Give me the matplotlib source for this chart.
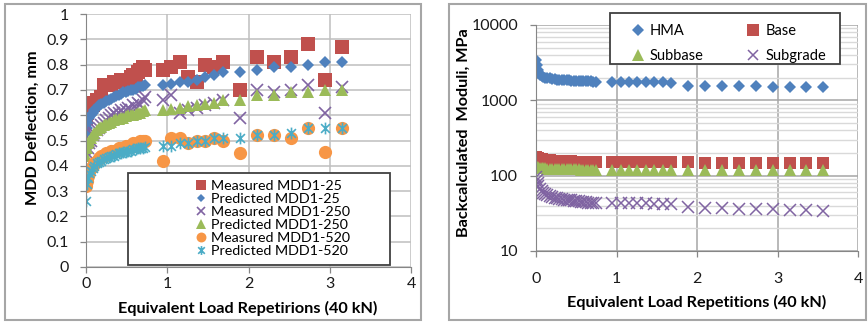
import matplotlib.pyplot as plt
from matplotlib.patches import Rectangle
from matplotlib.path import Path

plt.rcParams['font.family'] = ['Lato', 'DejaVu Sans']

# ---- left panel: MDD deflection (mm) vs load repetitions ----
x_left = [0, 0.01, 0.02, 0.04, 0.06, 0.08, 0.1, 0.13, 0.16, 0.19, 0.22, 0.25, 0.28, 0.31,
          0.34, 0.37, 0.4, 0.43, 0.46, 0.49, 0.52, 0.55, 0.58, 0.61, 0.64, 0.67, 0.7, 0.73,
          0.945, 1.05, 1.155, 1.26, 1.365, 1.47, 1.575, 1.68, 1.89, 2.1, 2.31, 2.52, 2.73, 2.94, 3.15]

meas_25 = [0.59, 0.61, 0.62, 0.63, 0.64, 0.64, 0.65, 0.66, 0.66, 0.67, 0.72, 0.72, 0.72, 0.72,
           0.73, 0.73, 0.73, 0.74, 0.74, 0.74, 0.74, 0.75, 0.76, 0.76, 0.77, 0.78, 0.79, 0.78,
           0.78, 0.79, 0.81, 0.75, 0.73, 0.80, 0.79, 0.81, 0.70, 0.83, 0.81, 0.83, 0.88, 0.74, 0.87]
pred_25 = [0.53, 0.55, 0.57, 0.59, 0.60, 0.61, 0.62, 0.63, 0.64, 0.645, 0.65, 0.655, 0.66, 0.665,
           0.67, 0.675, 0.68, 0.685, 0.69, 0.69, 0.695, 0.70, 0.70, 0.705, 0.71, 0.71, 0.715, 0.72,
           0.72, 0.725, 0.73, 0.73, 0.74, 0.75, 0.76, 0.77, 0.77, 0.78, 0.79, 0.79, 0.80, 0.81, 0.81]
meas_250 = [0.43, 0.45, 0.47, 0.49, 0.50, 0.52, 0.53, 0.54, 0.55, 0.56, 0.57, 0.58, 0.59, 0.60,
            0.61, 0.60, 0.61, 0.62, 0.61, 0.62, 0.63, 0.62, 0.64, 0.63, 0.65, 0.64, 0.66, 0.67,
            0.66, 0.68, 0.61, 0.62, 0.63, 0.64, 0.65, 0.66, 0.59, 0.70, 0.69, 0.70, 0.72, 0.61, 0.71]
pred_250 = [0.44, 0.47, 0.49, 0.50, 0.51, 0.52, 0.53, 0.54, 0.55, 0.555, 0.56, 0.565, 0.57, 0.575,
            0.58, 0.585, 0.585, 0.59, 0.59, 0.595, 0.60, 0.60, 0.60, 0.605, 0.61, 0.61, 0.615, 0.62,
            0.62, 0.625, 0.63, 0.635, 0.64, 0.645, 0.65, 0.66, 0.66, 0.68, 0.68, 0.69, 0.69, 0.70, 0.70]
meas_520 = [0.32, 0.34, 0.36, 0.38, 0.39, 0.40, 0.41, 0.42, 0.43, 0.44, 0.44, 0.45, 0.45, 0.46,
            0.46, 0.46, 0.47, 0.47, 0.47, 0.48, 0.48, 0.48, 0.49, 0.48, 0.49, 0.50, 0.50, 0.50,
            0.42, 0.51, 0.51, 0.49, 0.50, 0.50, 0.51, 0.50, 0.45, 0.52, 0.52, 0.51, 0.55, 0.455, 0.55]
pred_520 = [0.26, 0.33, 0.35, 0.37, 0.38, 0.39, 0.40, 0.41, 0.415, 0.42, 0.425, 0.43, 0.435, 0.44,
            0.44, 0.445, 0.45, 0.45, 0.455, 0.455, 0.46, 0.46, 0.465, 0.465, 0.47, 0.47, 0.47, 0.475,
            0.48, 0.48, 0.49, 0.49, 0.50, 0.50, 0.51, 0.51, 0.51, 0.52, 0.52, 0.53, 0.55, 0.55, 0.55]

# ---- right panel: backcalculated moduli (MPa) ----
x_right = [0, 0.01, 0.02, 0.03, 0.05, 0.07, 0.09, 0.11, 0.14, 0.17, 0.2, 0.23, 0.26, 0.29, 0.32,
           0.35, 0.38, 0.41, 0.44, 0.47, 0.5, 0.53, 0.56, 0.59, 0.62, 0.65, 0.68, 0.71, 0.74,
           0.945, 1.05, 1.155, 1.26, 1.365, 1.47, 1.575, 1.68, 1.89, 2.1, 2.31, 2.52, 2.73, 2.94,
           3.15, 3.36, 3.57]

hma = [3400, 2900, 2500, 2300, 2200, 2100, 2050, 2000, 1980, 1950, 1930, 1900, 1890, 1880, 1870,
       1860, 1850, 1840, 1830, 1820, 1810, 1800, 1800, 1790, 1790, 1780, 1780, 1770, 1760,
       1760, 1750, 1750, 1740, 1740, 1730, 1730, 1720, 1560, 1550, 1550, 1540, 1540, 1520,
       1520, 1500, 1490]
base = [175, 172, 170, 168, 166, 165, 163, 162, 160, 160, 158, 158, 157, 157, 156,
        156, 155, 155, 155, 154, 154, 154, 153, 153, 153, 152, 152, 152, 152,
        152, 152, 151, 151, 151, 150, 150, 150, 150, 149, 149, 149, 148, 148,
        148, 148, 147]
subbase = [135, 132, 130, 128, 127, 126, 125, 125, 124, 124, 123, 123, 123, 122, 122,
           122, 122, 121, 121, 121, 121, 121, 120, 120, 120, 120, 120, 120, 120,
           120, 120, 120, 119, 119, 119, 119, 119, 119, 119, 118, 118, 118, 118,
           118, 118, 118]
subgrade = [95, 88, 80, 72, 66, 62, 59, 57, 55, 53, 52, 51, 50, 49, 49,
            48, 48, 47, 47, 46, 46, 46, 45, 45, 45, 44, 44, 44, 44,
            44, 44, 43, 43, 43, 42, 42, 42, 38, 37, 37, 36, 36, 36,
            35, 35, 34]

RED, BLUE, PURPLE = '#C0504D', '#4F81BD', '#8064A2'
GREEN, ORANGE, CYAN = '#9BBB59', '#F79646', '#4BACC6'

star = Path([(0, -1), (0, 1), (-0.75, -0.75), (0.75, 0.75), (-0.75, 0.75), (0.75, -0.75)],
            [Path.MOVETO, Path.LINETO] * 3)

W, H = 868, 322
def fx(p):
    return p / W
def fy(p):
    return 1 - p / H

fig = plt.figure(figsize=(8.68, 3.22), dpi=100)

# panel frames
for x0, x1 in [(5, 421), (449, 866)]:
    fig.patches.append(Rectangle((fx(x0), fy(320)), fx(x1) - fx(x0), fy(4) - fy(320),
                                 transform=fig.transFigure, fill=False,
                                 edgecolor='#a6a6a6', lw=1.5, zorder=0))

# ---------------- left ----------------
ax1 = fig.add_axes([fx(86), fy(267), fx(411) - fx(86), fy(14) - fy(267)])
h1 = ax1.plot(x_left, meas_25, 's', color=RED, ms=9.5, mew=0, label='Measured MDD1-25')
h2 = ax1.plot(x_left, pred_25, 'D', color=BLUE, ms=5.8, mew=0, label='Predicted MDD1-25')
h3 = ax1.plot(x_left, meas_250, 'x', color=PURPLE, ms=8, mew=1.2, label='Measured MDD1-250')
h4 = ax1.plot(x_left, pred_250, '^', color=GREEN, ms=9, mew=0, label='Predicted MDD1-250')
h5 = ax1.plot(x_left, meas_520, 'o', color=ORANGE, ms=9.5, mew=0, label='Measured MDD1-520')
h6 = ax1.plot(x_left, pred_520, marker=star, ls='none', color=CYAN, ms=8.5, mew=1.2,
              label='Predicted MDD1-520')

ax1.set_xlim(0, 4)
ax1.set_ylim(0, 1)
ax1.set_xticks([0, 1, 2, 3, 4])
ax1.set_yticks([0, 0.1, 0.2, 0.3, 0.4, 0.5, 0.6, 0.7, 0.8, 0.9, 1],
               labels=['0', '0.1', '0.2', '0.3', '0.4', '0.5', '0.6', '0.7', '0.8', '0.9', '1'])
ax1.grid(True, color='#bfbfbf', lw=1.1)
ax1.set_axisbelow(True)
for s in ['top', 'right']:
    ax1.spines[s].set_visible(False)
for s in ['left', 'bottom']:
    ax1.spines[s].set_color('#868686')
ax1.tick_params(length=4.5, width=0.9, color='#868686', labelsize=11.5, labelcolor='#1a1a1a')
ax1.tick_params(axis='y', pad=8)
ax1.tick_params(axis='x', pad=3)

fig.text(fx(33), fy(128), 'MDD Deflection, mm', rotation=90, ha='center', va='center',
         fontsize=11.7, fontweight='bold')
fig.text(fx(248), fy(308), 'Equivalent Load Repetirions (40 kN)', ha='center', va='center',
         fontsize=11.7, fontweight='bold')

fig.patches.append(Rectangle((fx(128), fy(265)), fx(390) - fx(128), fy(173) - fy(265),
                             transform=fig.transFigure, facecolor='white',
                             edgecolor='#404040', lw=1.3, zorder=2))
handles = h1 + h2 + h3 + h4 + h5 + h6
leg1 = fig.legend(handles=handles, loc='upper left', bbox_to_anchor=(fx(187), fy(173)),
                  frameon=False, fontsize=10.3, borderpad=0, handlelength=0.9,
                  handletextpad=0.3, labelspacing=0.07, markerscale=0.75)
leg1.set_zorder(3)

# ---------------- right ----------------
ax2 = fig.add_axes([fx(536), fy(251), fx(858) - fx(536), fy(25) - fy(251)])
g1 = ax2.plot(x_right, hma, 'D', color=BLUE, ms=6.5, mew=0, label='HMA')
g2 = ax2.plot(x_right, base, 's', color=RED, ms=9, mew=0, label='Base')
g3 = ax2.plot(x_right, subbase, '^', color=GREEN, ms=9, mew=0, label='Subbase')
g4 = ax2.plot(x_right, subgrade, 'x', color=PURPLE, ms=8.5, mew=1.1, label='Subgrade')

ax2.set_yscale('log')
ax2.set_xlim(0, 4)
ax2.set_ylim(10, 10000)
ax2.set_xticks([0, 1, 2, 3, 4])
ax2.set_yticks([10, 100, 1000, 10000], labels=['10', '100', '1000', '10000'])
ax2.grid(True, which='major', color='#a6a6a6', lw=1.1)
ax2.grid(True, which='minor', axis='y', color='#d9d9d9', lw=1.0)
ax2.set_axisbelow(True)
for s in ['top', 'right']:
    ax2.spines[s].set_visible(False)
for s in ['left', 'bottom']:
    ax2.spines[s].set_color('#868686')
ax2.tick_params(length=4, width=0.9, color='#868686', labelsize=11.5, labelcolor='#1a1a1a')
ax2.tick_params(which='minor', length=0)
ax2.tick_params(axis='y', pad=9)
ax2.tick_params(axis='x', pad=11)

fig.text(fx(464), fy(133), 'Backcalculated  Moduli, MPa', rotation=90, ha='center', va='center',
         fontsize=11.7, fontweight='bold')
fig.text(fx(697), fy(302), 'Equivalent Load Repetitions (40 kN)', ha='center', va='center',
         fontsize=11.7, fontweight='bold')

fig.patches.append(Rectangle((fx(610), fy(64)), fx(840) - fx(610), fy(13) - fy(64),
                             transform=fig.transFigure, facecolor='white',
                             edgecolor='#404040', lw=1.3, zorder=2))
leg2 = fig.legend(handles=g1 + g3 + g2 + g4, ncol=2, loc='upper left',
                  bbox_to_anchor=(fx(623), fy(17)), frameon=False, fontsize=10.5,
                  borderpad=0, handlelength=1.0, handletextpad=0.35, labelspacing=0.75,
                  columnspacing=2.9, markerscale=0.9)
leg2.set_zorder(3)

fig.savefig('out.png', dpi=100)
